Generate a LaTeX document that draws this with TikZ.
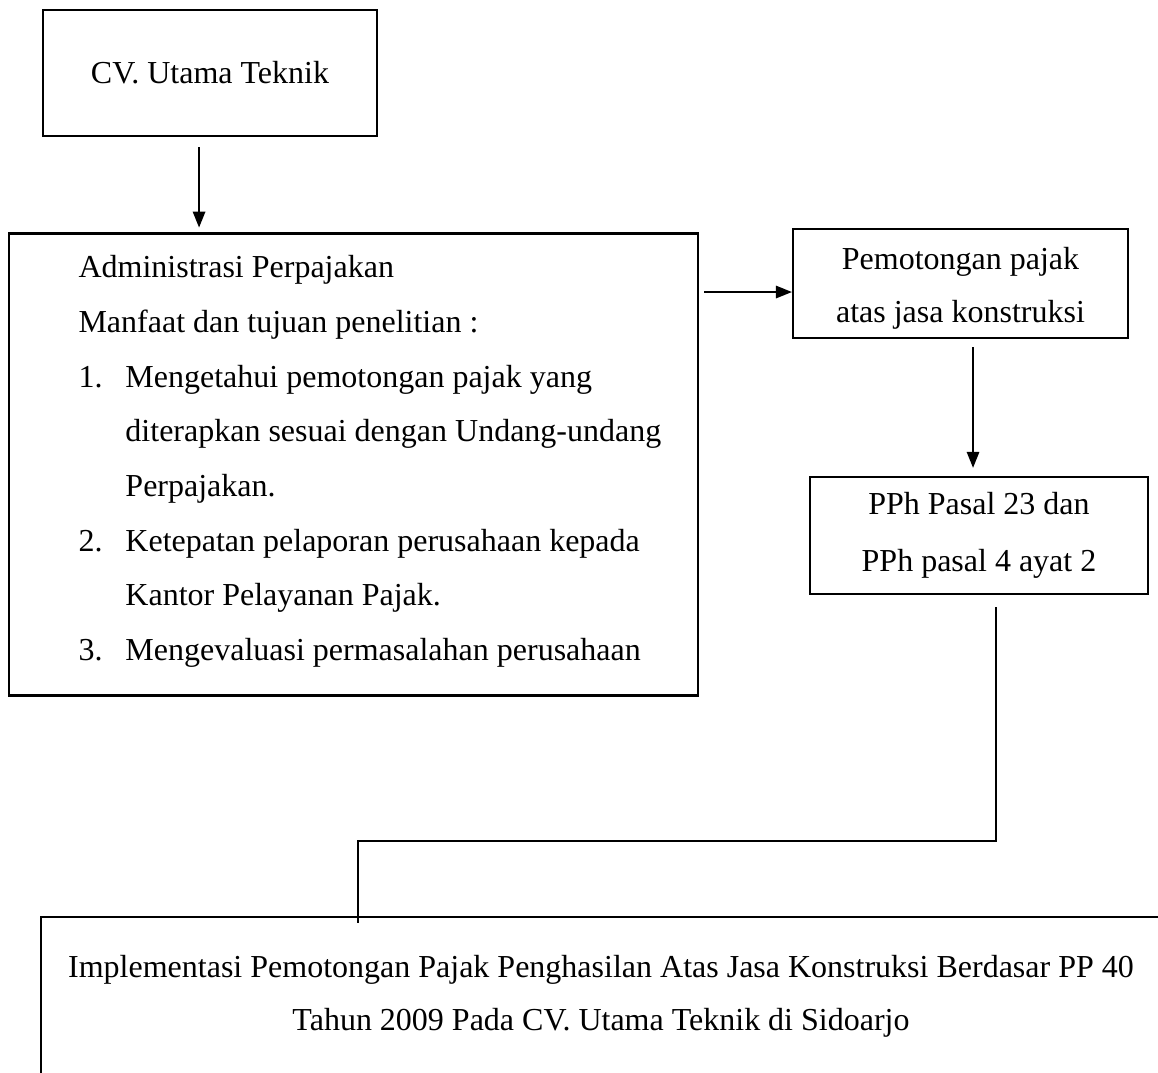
\documentclass[tikz,border=0pt]{standalone}
\usepackage{fontspec}
\setmainfont{Liberation Serif}
\usetikzlibrary{arrows.meta}

\begin{document}
\begin{tikzpicture}[x=0.375pt, y=-0.375pt,
        box/.style={draw, rectangle, thick, inner sep=0pt, align=center, font=\fontsize{12pt}{20pt}\selectfont},
        arrow/.style={-{Triangle[width=4.6pt,length=6pt]}, thick}]
        \useasboundingbox (0,0) rectangle (1158,1073);

        \node[box, minimum width=125.25pt, minimum height=47.25pt] (utama) at (210,73) {CV. Utama Teknik};
        \node[box, minimum width=258.4pt, minimum height=173.25pt] (admin) at (353.5,464.5) {};
        \node[anchor=north west, inner sep=0pt, align=left, font=\fontsize{12pt}{20.5pt}\selectfont] (tujuan) at (78,255) {Administrasi Perpajakan\\
            Manfaat dan tujuan penelitian :\\
            \makebox[17.6pt][l]{1.}Mengetahui pemotongan pajak yang\\
            \hspace*{17.6pt}diterapkan sesuai dengan Undang-undang\\
            \hspace*{17.6pt}Perpajakan.\\
            \makebox[17.6pt][l]{2.}Ketepatan pelaporan perusahaan kepada\\
            \hspace*{17.6pt}Kantor Pelayanan Pajak.\\
            \makebox[17.6pt][l]{3.}Mengevaluasi permasalahan perusahaan};
        \node[box, minimum width=125.6pt, minimum height=40.9pt] (potong) at (960.5,283.5) {\rule{0pt}{12pt}Pemotongan pajak\\atas jasa konstruksi};
        \node[box, minimum width=126.75pt, minimum height=43.9pt, font=\fontsize{12pt}{21.5pt}\selectfont] (pph) at (979,535.5) {PPh Pasal 23 dan\\PPh pasal 4 ayat 2};
        \node[box, minimum width=420pt, minimum height=59.6pt] (judul) at (601,996.5) {Implementasi Pemotongan Pajak Penghasilan Atas Jasa Konstruksi Berdasar PP 40\\Tahun 2009 Pada CV. Utama Teknik di Sidoarjo};

        \coordinate (utamaout) at ([xshift=-4.1pt]utama.south);
        \coordinate (potongin) at ([yshift=-3.2pt]potong.west);
        \coordinate (potongout) at ([xshift=4.7pt]potong.south);
        \coordinate (pphout) at ([xshift=6.4pt]pph.south);
        \coordinate (judulin) at ([xshift=119.25pt]judul.north west);

        \draw[arrow, shorten <=3.75pt, shorten >=1.8pt] (utamaout) -- (utamaout |- admin.north);
        \draw[arrow, shorten <=1.9pt] (admin.east |- potongin) -- (potongin);
        \draw[arrow, shorten <=3pt, shorten >=3pt] (potongout) -- (potongout |- pph.north);
        \draw[thick, shorten <=4.5pt] (pphout) |- ([yshift=28.1pt]judulin) -- ([yshift=-2.6pt]judulin);
    \end{tikzpicture}
\end{document}
